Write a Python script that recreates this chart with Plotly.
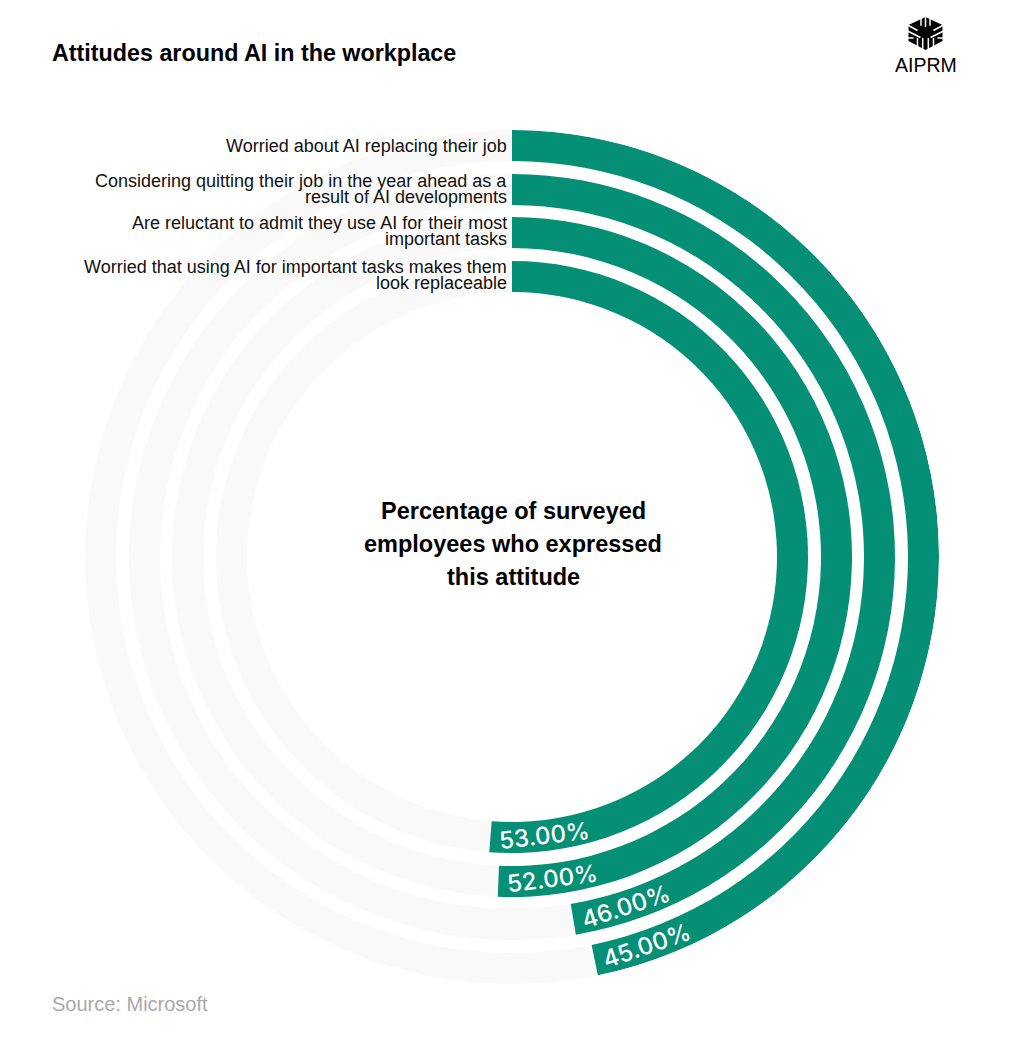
import math
import plotly.graph_objects as go

TITLE = "Attitudes around AI in the workplace"
SOURCE = "Source: Microsoft"
BRAND = "AIPRM"
CENTER_LINES = ["Percentage of surveyed", "employees who expressed", "this attitude"]
CATEGORY_LINES = [
    ["Worried about AI replacing their job"],
    ["Considering quitting their job in the year ahead as a", "result of AI developments"],
    ["Are reluctant to admit they use AI for their most", "important tasks"],
    ["Worried that using AI for important tasks makes them", "look replaceable"],
]
VALUES = [45, 46, 52, 53]

W, H = 1024, 1038
CX, CY, R = 512, 557, 427
RING_BASE = [396, 352, 309, 265]
RING_T = 31
GREEN = "#058f75"
TRACK = "#f9f9f9"
FONT = "Liberation Sans"


def sweep(v):
    # angular scale as drawn in the reference
    return 78.4 + 2.0 * v


def px(x, y):
    return x / W, 1 - y / H


fig = go.Figure()
fig.add_trace(go.Barpolar(
    r=[RING_T] * 4, base=RING_BASE, theta=[180] * 4, width=[360] * 4,
    marker=dict(color=TRACK, line=dict(width=0)), hoverinfo="skip", showlegend=False))
sw = [sweep(v) for v in VALUES]
fig.add_trace(go.Barpolar(
    r=[RING_T] * 4, base=RING_BASE, theta=[s / 2 for s in sw], width=sw,
    marker=dict(color=GREEN, line=dict(width=0)),
    text=[f"{v:.2f}%" for v in VALUES], hoverinfo="text", showlegend=False))

ann = []


def text(x, y, s, size, color="#111111", bold=False, anchor="left", angle=0, family=FONT, weight=None):
    ax, ay = px(x, y)
    f = dict(family=family, size=size, color=color)
    if weight:
        f["weight"] = weight
    ann.append(dict(x=ax, y=ay, xref="paper", yref="paper", text=f"<b>{s}</b>" if bold else s,
                    showarrow=False, xanchor=anchor, yanchor="middle", textangle=angle,
                    font=f))


text(50, 53, TITLE, 23.3, "#000000", True)
text(50, 1004, SOURCE, 20, "#a9a9a9")
text(926, 65, BRAND, 19.5, "#000000", False, "center")
for i, line in enumerate(CENTER_LINES):
    text(513, 511 + 33 * i, line, 23.5, "#000000", True, "center")

LINE_Y = [[146], [181, 197], [223, 239], [267, 283]]
for lines, ys in zip(CATEGORY_LINES, LINE_Y):
    for line, y in zip(lines, ys):
        text(509, y, line, 18, "#111111", False, "right")

for v, base, s in zip(VALUES, RING_BASE, sw):
    rm = base + RING_T / 2
    a = s - math.degrees(54 / rm)
    ar = math.radians(a)
    x = CX + rm * math.sin(ar)
    y = CY - rm * math.cos(ar)
    text(x, y, f"{v:.2f}%", 24, "#ffffff", False, "center", -(180 - a), "Inter", 500)

# logo glyph
shapes = []


def poly(pts, fill):
    d = "M" + " L".join(f"{px(a, b)[0]:.5f},{px(a, b)[1]:.5f}" for a, b in pts) + " Z"
    shapes.append(dict(type="path", xref="paper", yref="paper", path=d,
                       fillcolor=fill, line=dict(width=0)))


def seg(a, b, c, d, w=1.5):
    x0, y0 = px(a, b)
    x1, y1 = px(c, d)
    shapes.append(dict(type="line", xref="paper", yref="paper", x0=x0, y0=y0, x1=x1, y1=y1,
                       line=dict(color="#ffffff", width=w)))


lx, ly = 925.5, 33
poly([(lx, 17), (lx + 17, 25), (lx + 17, 41), (lx, 50), (lx - 17, 41), (lx - 17, 25)], "#000000")
for dx in (-4.5, 0, 4.5):
    seg(lx + dx, 15, lx + dx, 27 - abs(dx) * 0.3)
for sgn in (-1, 1):
    seg(lx + sgn * 2.8, 51, lx + sgn * 2.8, 38)
    seg(lx + sgn * 8, 48, lx + sgn * 8, 38)
    seg(lx + sgn * 18, 25, lx + sgn * 8, 30.5)
    seg(lx + sgn * 18, 31, lx + sgn * 5, 37.5)
    seg(lx + sgn * 12, 38, lx + sgn * 17.5, 38)

fig.update_layout(
    width=W, height=H, autosize=False,
    margin=dict(l=0, r=0, t=0, b=0),
    paper_bgcolor="#ffffff", plot_bgcolor="#ffffff",
    showlegend=False,
    polar=dict(
        domain=dict(x=[(CX - R) / W, (CX + R) / W], y=[1 - (CY + R) / H, 1 - (CY - R) / H]),
        bgcolor="#ffffff", barmode="overlay",
        radialaxis=dict(visible=False, range=[0, R]),
        angularaxis=dict(visible=False, direction="clockwise", rotation=90),
    ),
    annotations=ann, shapes=shapes,
)
fig.write_html("out.html", config={"displayModeBar": False},
               post_script="document.body.style.margin='0';document.documentElement.style.overflow='hidden';")
